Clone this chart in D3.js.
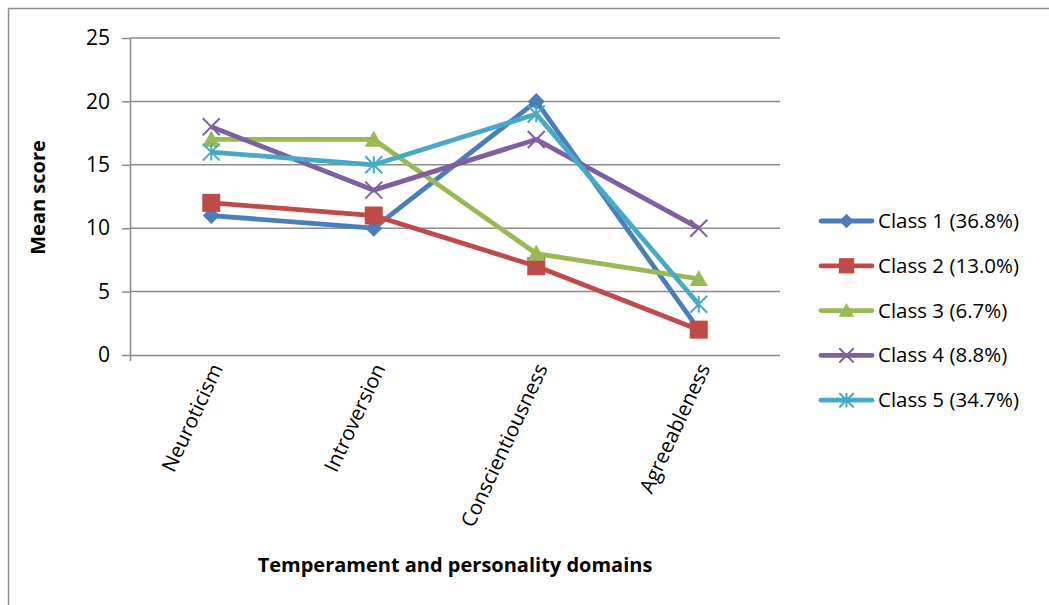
<!DOCTYPE html>
<html>
<head>
<meta charset="utf-8">
<script src="https://cdn.jsdelivr.net/npm/d3@7"></script>
<style>
  html, body { margin: 0; padding: 0; background: #fff; }
  svg { display: block; font-family: "Open Sans", "Liberation Sans", sans-serif; }
</style>
</head>
<body>
<svg id="chart" width="1049" height="605"></svg>
<script>
// Domains on the category axis
const domains = ["Neuroticism", "Introversion", "Conscientiousness", "Agreeableness"];
// Latent class labels
const classNames = ["Class 1 (36.8%)", "Class 2 (13.0%)", "Class 3 (6.7%)", "Class 4 (8.8%)", "Class 5 (34.7%)"];
// Mean scores per class, in domain order
const class1 = [11, 10, 20, 2];
const class2 = [12, 11, 7, 2];
const class3 = [17, 17, 8, 6];
const class4 = [18, 13, 17, 10];
const class5 = [16, 15, 19, 4];
const yTicks = [0, 5, 10, 15, 20, 25];

const seriesValues = [class1, class2, class3, class4, class5];
const colors = ["#4a7ebb", "#be4b48", "#98b954", "#7d60a0", "#46aac5"];
const shapes = ["diamond", "square", "triangle", "x", "star"];
const FONT = "Open Sans, Liberation Sans, sans-serif";

const svg = d3.select("#chart");
const plot = { left: 130, right: 780, top: 38, bottom: 355 };

// Outer chart frame (top and left edges)
svg.append("path")
  .attr("d", "M8.5,605 V8.5 H1049")
  .attr("fill", "none").attr("stroke", "#8c8c8c").attr("stroke-width", 1.5);

const x = d3.scaleBand().domain(domains).range([plot.left, plot.right]);
const y = d3.scaleLinear().domain([0, 25]).range([plot.bottom, plot.top]);

// Horizontal gridlines
svg.append("g").selectAll("line").data(yTicks.filter(t => t > 0)).join("line")
  .attr("x1", plot.left).attr("x2", plot.right)
  .attr("y1", d => y(d)).attr("y2", d => y(d))
  .attr("stroke", "#8c8c8c").attr("stroke-width", 1.5);

// Y axis
const yAxis = svg.append("g").attr("transform", `translate(${plot.left},0)`)
  .call(d3.axisLeft(y).tickValues(yTicks).tickSize(8).tickPadding(12).tickSizeOuter(0))
  .attr("font-family", FONT).attr("font-size", 21);
yAxis.select(".domain").attr("stroke", "#8c8c8c").attr("stroke-width", 1.5)
  .attr("d", `M0.5,${plot.top}V${plot.bottom + 6}`);
yAxis.selectAll(".tick line").attr("stroke", "#8c8c8c").attr("stroke-width", 1.5);
yAxis.selectAll(".tick text").attr("fill", "#000");

// X axis
const xAxis = svg.append("g").attr("transform", `translate(0,${plot.bottom})`)
  .call(d3.axisBottom(x).tickSize(0).tickPadding(0))
  .attr("font-family", FONT).attr("font-size", 20.5);
xAxis.select(".domain").attr("stroke", "#8c8c8c").attr("stroke-width", 1.5)
  .attr("d", `M${plot.left},0.5H${plot.right}`);
xAxis.selectAll(".tick text")
  .attr("fill", "#000")
  .attr("text-anchor", "end")
  .attr("dy", 0).attr("y", 0)
  .attr("transform", "translate(12,13) rotate(-65)");

// Axis titles
svg.append("text")
  .attr("transform", `translate(45,${(plot.top + plot.bottom) / 2 + 1}) rotate(-90)`)
  .attr("text-anchor", "middle").attr("font-weight", "bold").attr("font-size", 20)
  .text("Mean score");
svg.append("text")
  .attr("x", 455).attr("y", 572)
  .attr("text-anchor", "middle").attr("font-weight", "bold").attr("font-size", 20)
  .text("Temperament and personality domains");

// Marker drawing
function drawMarker(g, shape, color, cx, cy, s) {
  const h = s / 2;
  if (shape === "diamond") {
    g.append("path").attr("d", `M${cx},${cy - h}L${cx + h},${cy}L${cx},${cy + h}L${cx - h},${cy}Z`)
      .attr("fill", color);
  } else if (shape === "square") {
    g.append("rect").attr("x", cx - h).attr("y", cy - h).attr("width", s).attr("height", s)
      .attr("fill", color);
  } else if (shape === "triangle") {
    g.append("path").attr("d", `M${cx},${cy - h}L${cx + h},${cy + h * 0.8}L${cx - h},${cy + h * 0.8}Z`)
      .attr("fill", color);
  } else if (shape === "x") {
    g.append("path").attr("d", `M${cx - h},${cy - h}L${cx + h},${cy + h}M${cx - h},${cy + h}L${cx + h},${cy - h}`)
      .attr("stroke", color).attr("stroke-width", 2);
  } else if (shape === "star") {
    g.append("path").attr("d",
      `M${cx - h},${cy - h}L${cx + h},${cy + h}M${cx - h},${cy + h}L${cx + h},${cy - h}M${cx},${cy - h}L${cx},${cy + h}`)
      .attr("stroke", color).attr("stroke-width", 2);
  }
}

const line = d3.line().x((d, i) => x(domains[i]) + x.bandwidth() / 2).y(d => y(d));
const markerSize = [17, 18, 18, 17, 17];

seriesValues.forEach((vals, k) => {
  const g = svg.append("g");
  g.append("path").datum(vals).attr("d", line)
    .attr("fill", "none").attr("stroke", colors[k]).attr("stroke-width", 4.8)
    .attr("stroke-linejoin", "round");
  vals.forEach((v, i) => drawMarker(g, shapes[k], colors[k], x(domains[i]) + x.bandwidth() / 2, y(v), markerSize[k]));
});

// Legend
const legend = svg.append("g");
classNames.forEach((name, k) => {
  const ly = 221 + k * 44.8;
  const g = legend.append("g");
  g.append("line").attr("x1", 821).attr("x2", 872).attr("y1", ly).attr("y2", ly)
    .attr("stroke", colors[k]).attr("stroke-width", 4.8).attr("stroke-linecap", "round");
  drawMarker(g, shapes[k], colors[k], 846.5, ly, markerSize[k] * 0.85);
  g.append("text").attr("x", 878).attr("y", ly + 7).attr("font-size", 20.5).text(name);
});
</script>
</body>
</html>
